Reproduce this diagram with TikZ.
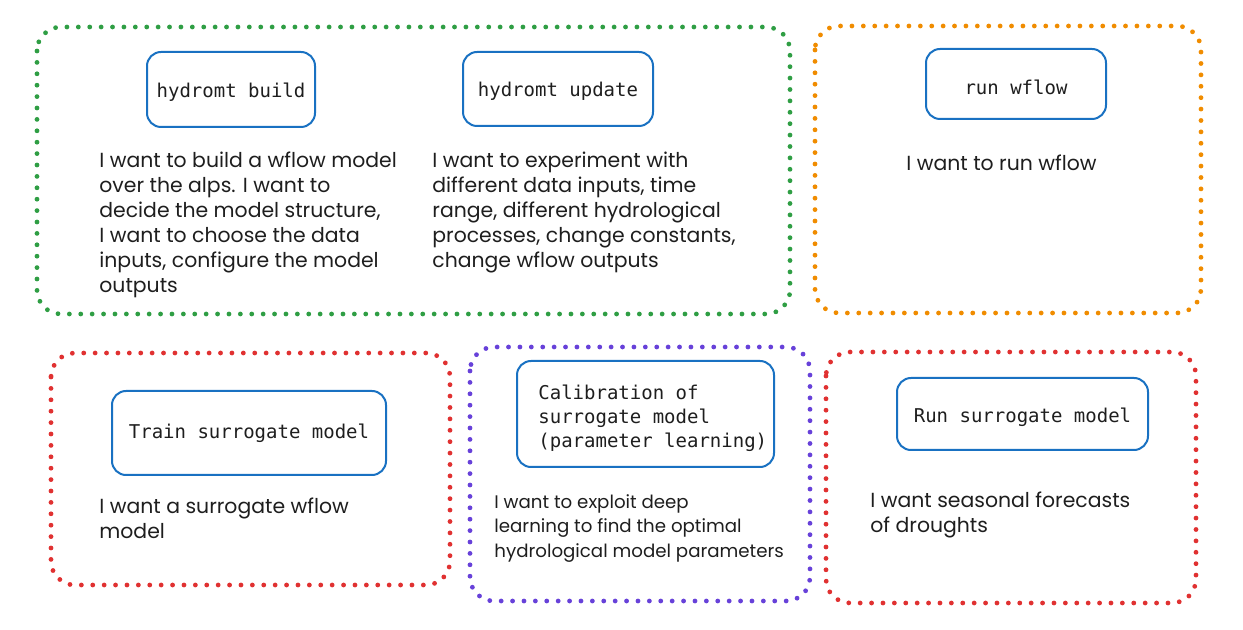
\documentclass[tikz,border=0pt]{standalone}
\usepackage{fontspec}
\setmainfont{Poppins}
\newfontfamily\codefont{DejaVu Sans Mono}
\begin{document}
\begin{tikzpicture}[x=0.5pt,y=-0.5pt,
  group/.style={line width=2.4pt, dash pattern=on 0pt off 5.7pt, line cap=round, rounded corners=12pt},
  cmd/.style={draw=cblue, line width=1pt, rounded corners=7pt, inner sep=0pt, font=\codefont\fontsize{9.5}{12}\selectfont, text=ctext},
  low/.style={text height=8pt, text depth=0pt},
  lower/.style={text height=11pt, text depth=0pt},
  desc/.style={anchor=north west, inner sep=0pt, align=left, font=\fontsize{10.2}{12.5}\selectfont, text=ctext}]
\definecolor{cgreen}{HTML}{2F9E44}
\definecolor{corange}{HTML}{F08C00}
\definecolor{cred}{HTML}{E03131}
\definecolor{cpurple}{HTML}{6741D9}
\definecolor{cblue}{HTML}{1971C2}
\definecolor{ctext}{HTML}{1E1E1E}
\useasboundingbox (0,0) rectangle (1243,630);
% groups
\draw[group, draw=cgreen] (37,27) rectangle (790,314);
\draw[group, draw=corange] (815,26) rectangle (1201,313);
\draw[group, draw=cred] (51,353) rectangle (450,585);
\draw[group, draw=cpurple] (470,347) rectangle (810,601);
\draw[group, draw=cred] (826,352) rectangle (1196,603);
% command boxes
\node[cmd, low, minimum width=84pt, minimum height=37.5pt] (build) at (231,89.5) {hydromt build};
\node[cmd, low, minimum width=95pt, minimum height=37pt] (update) at (558,89) {hydromt update};
\node[cmd, lower, minimum width=90pt, minimum height=35pt] (run) at (1016,84) {run wflow};
\node[cmd, minimum width=137pt, minimum height=42pt] (train) at (249,433) {Train surrogate model};
\node[cmd, minimum width=128.5pt, minimum height=53pt] (calib) at (645.5,414) {};
\node[anchor=west, inner sep=0pt, align=left, font=\codefont\fontsize{9.5}{12}\selectfont, text=ctext] (calibtext) at (538,418) {Calibration of\\surrogate model\\(parameter learning)};
\node[cmd, text height=9pt, text depth=0pt, minimum width=125.5pt, minimum height=36pt] (runsur) at (1022.5,414) {Run surrogate model};
% descriptions
\node[desc] (dbuild) at (99,152) {I want to build a wflow model\\over the alps. I want to\\decide the model structure,\\I want to choose the data\\inputs, configure the model\\outputs};
\node[desc] (dupdate) at (432,152) {I want to experiment with\\different data inputs, time\\range, different hydrological\\processes, change constants,\\change wflow outputs};
\node[desc] (drun) at (906,155) {I want to run wflow};
\node[desc] (dtrain) at (99,498) {I want a surrogate wflow\\model};
\node[desc, font=\fontsize{9.1}{12.3}\selectfont] (dcalib) at (494,494) {I want to exploit deep\\learning to find the optimal\\hydrological model parameters};
\node[desc] (drunsur) at (870,492) {I want seasonal forecasts\\of droughts};
\end{tikzpicture}
\end{document}
